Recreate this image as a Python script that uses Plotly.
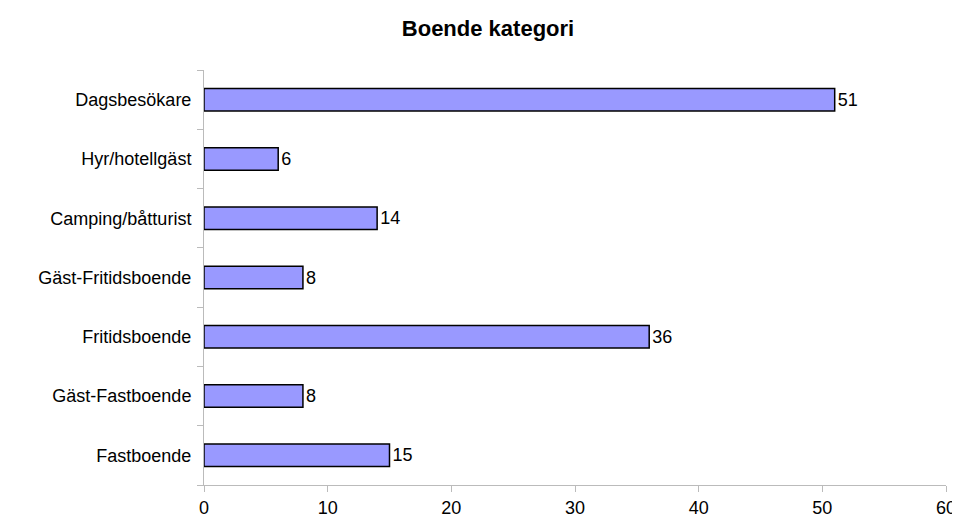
import plotly.graph_objects as go

categories = ["Fastboende", "Gäst-Fastboende", "Fritidsboende", "Gäst-Fritidsboende",
              "Camping/båtturist", "Hyr/hotellgäst", "Dagsbesökare"]
values = [15, 8, 36, 8, 14, 6, 51]

fig = go.Figure()
fig.add_trace(go.Bar(
    y=categories, x=values, orientation="h", width=0.38,
    marker=dict(color="#9999ff", line=dict(color="black", width=1.5)),
    text=values, textposition="outside", cliponaxis=False,
    textfont=dict(size=18, color="black"),
))
fig.update_layout(
    title=dict(text="<b>Boende kategori</b>", x=0.5, xanchor="center", y=0.975,
               font=dict(size=22, color="black")),
    font=dict(family="Liberation Sans, Arial", size=18, color="black"),
    width=960, height=522,
    margin=dict(l=196, r=14, t=62, b=41),
    plot_bgcolor="white", paper_bgcolor="white",
    showlegend=False,
)
fig.update_xaxes(range=[0, 60], dtick=10, showgrid=False, showline=True,
                 linecolor="#bbbbbb", ticks="outside", tickcolor="#bbbbbb",
                 ticklen=6, zeroline=False)
fig.update_yaxes(showgrid=False, showline=True, linecolor="#bbbbbb",
                 ticks="outside", tickson="boundaries", tickcolor="#bbbbbb",
                 ticklen=6, ticklabelstandoff=8)
fig.write_html("out.html")
